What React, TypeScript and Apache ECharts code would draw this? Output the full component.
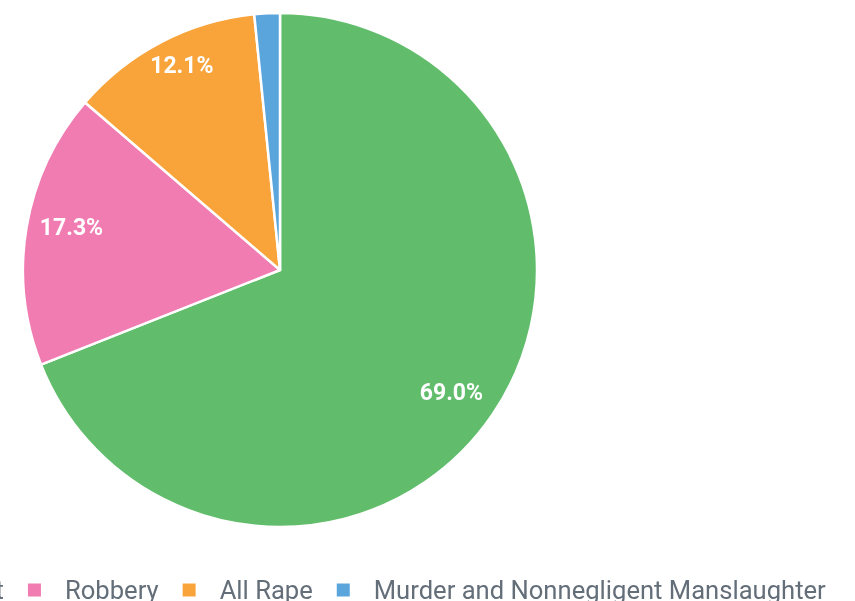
import React, { useEffect, useRef } from "react";
import * as echarts from "echarts";

const categories = ["Aggravated Assault", "Robbery", "All Rape", "Murder and Nonnegligent Manslaughter"];
const values = [69.0, 17.3, 12.1, 1.6];
const colors = ["#61bd6c", "#f07cb1", "#f9a43a", "#5aa5dc"];

export default function App() {
  const ref = useRef<HTMLDivElement>(null);
  useEffect(() => {
    if (!ref.current) return;
    const chart = echarts.init(ref.current, undefined, { renderer: "svg" });
    const data = categories.map((name, i) => ({ name, value: values[i], itemStyle: { color: colors[i] } }));
    const labelShift: Record<string, number[]> = {
      "Aggravated Assault": [-6, 2],
      Robbery: [3, -7],
      "All Rape": [1, -14],
    };
    chart.setOption({
      animation: false,
      legend: {
        orient: "horizontal",
        left: -262,
        top: 572,
        itemWidth: 15,
        itemHeight: 15,
        itemGap: 22,
        icon: "rect",
        data: categories,
        textStyle: { fontFamily: "Roboto", fontSize: 25.6, color: "#636e79", padding: [0, 0, 0, 18] },
      },
      series: [
        {
          type: "pie",
          center: [280, 270],
          radius: [0, 257],
          startAngle: 90,
          clockwise: true,
          silent: true,
          label: { show: false },
          labelLine: { show: false },
          itemStyle: { borderColor: "#ffffff", borderWidth: 2.5 },
          data,
        },
        {
          type: "pie",
          center: [280, 270],
          radius: [166, 257],
          startAngle: 90,
          clockwise: true,
          silent: true,
          legendHoverLink: false,
          itemStyle: { color: "rgba(0,0,0,0)", borderWidth: 0 },
          labelLine: { show: false },
          label: {
            show: true,
            position: "inside",
            formatter: (p: any) => (p.value < 5 ? "" : p.value.toFixed(1) + "%"),
            color: "#ffffff",
            fontFamily: "Roboto",
            fontSize: 23,
            fontWeight: "bold",
          },
          data: categories.map((name, i) => ({
            name,
            value: values[i],
            label: labelShift[name] ? { offset: labelShift[name] } : undefined,
          })),
        },
      ],
    });
    return () => chart.dispose();
  }, []);
  return <div ref={ref} style={{ position: "fixed", left: 0, top: 0, width: 855, height: 601 }} />;
}
